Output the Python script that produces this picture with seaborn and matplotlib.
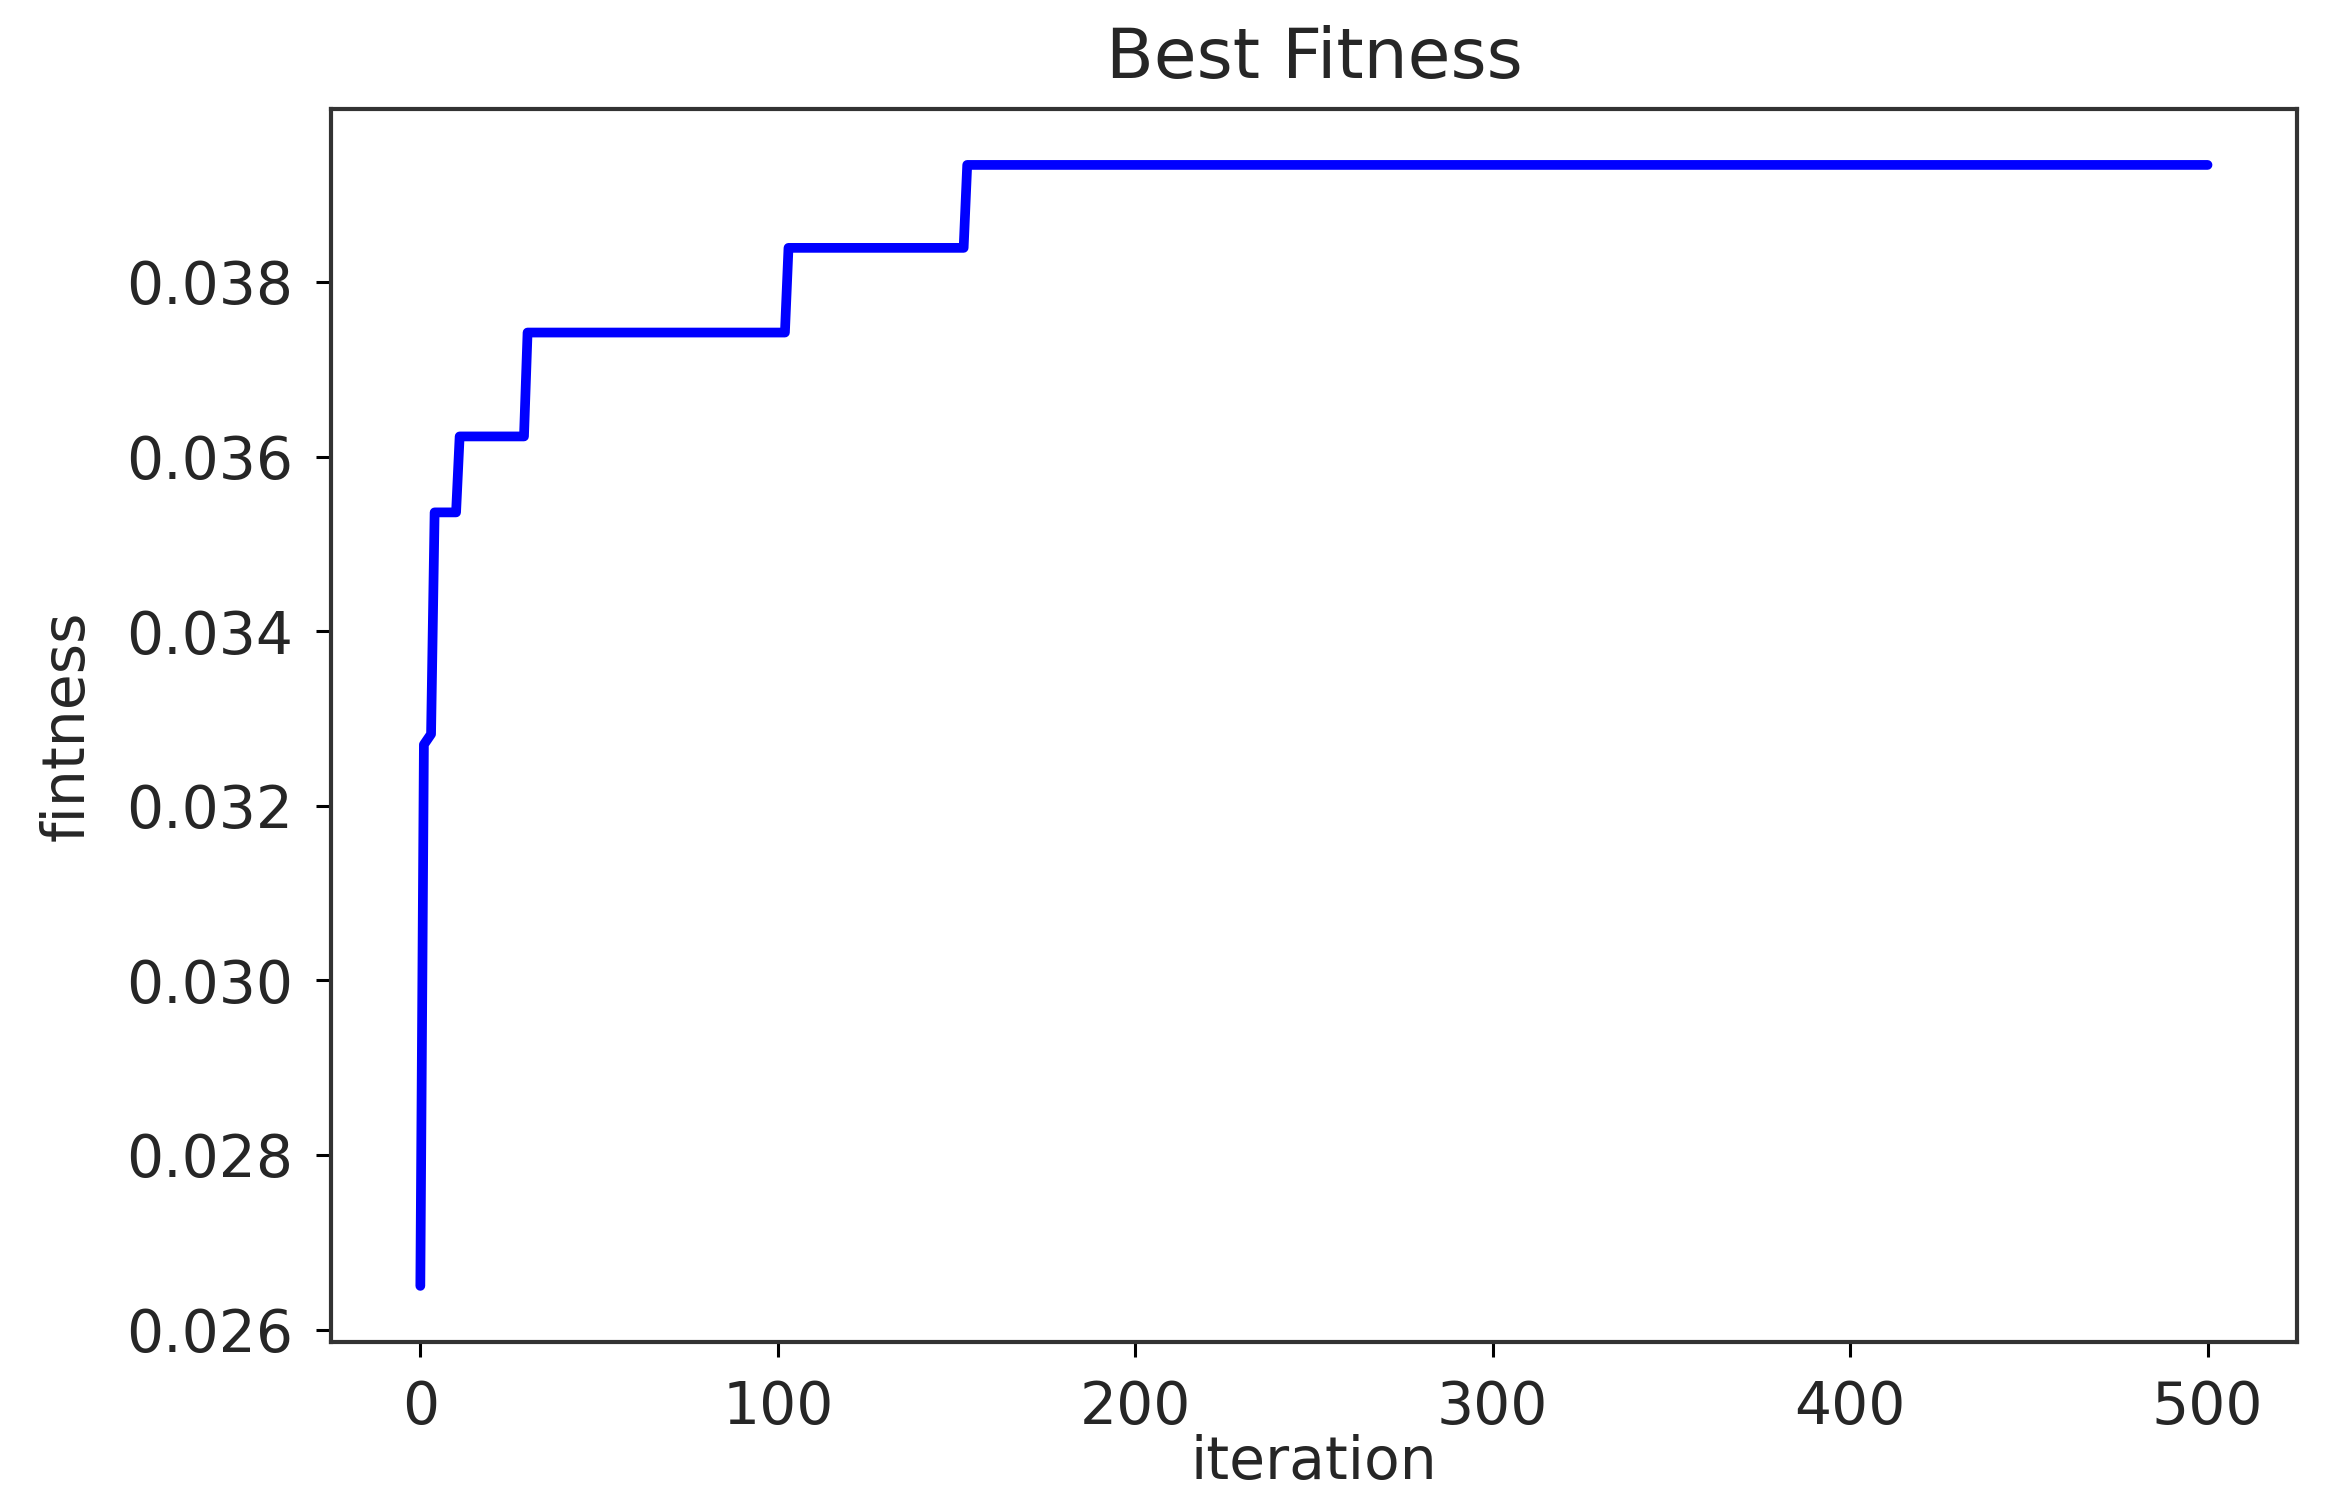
import numpy as np
import pandas as pd
import seaborn as sns
import matplotlib
matplotlib.use("Agg")
import matplotlib.pyplot as plt

# best fitness per iteration (only the points where the curve changes)
iterations = [0, 1, 3, 4, 10, 11, 29, 30, 102, 103, 152, 153, 500]
best_fitness = [0.02650, 0.03270, 0.03282, 0.03536, 0.03536, 0.03623, 0.03623,
                0.03742, 0.03742, 0.03839, 0.03839, 0.03934, 0.03934]

df = pd.DataFrame({'iteration': iterations, 'fitness': best_fitness})

sns.set_style("ticks")
plt.rcParams['font.family'] = ['DejaVu Sans']

fig = plt.figure(figsize=(23.39, 15.10), dpi=100)
ax = fig.add_axes([0.1415, 0.1113, 0.8405, 0.8166])

sns.lineplot(x='iteration', y='fitness', data=df, color='#0000ff',
             linewidth=7, ax=ax)

ax.set_title('Best Fitness', fontsize=50, pad=22)
ax.set_xlabel('iteration', fontsize=42, labelpad=-2)
ax.set_ylabel('fintness', fontsize=42, labelpad=22)

ax.set_xticks([0, 100, 200, 300, 400, 500])
ax.set_yticks([0.026, 0.028, 0.030, 0.032, 0.034, 0.036, 0.038])
ax.set_yticklabels(['0.026', '0.028', '0.030', '0.032', '0.034', '0.036', '0.038'])
ax.tick_params(labelsize=42, length=11, width=2.2, color='black', pad=16)

for s in ax.spines.values():
    s.set_linewidth(3)
    s.set_color('#333333')

fig.savefig('out.png', dpi=100)
